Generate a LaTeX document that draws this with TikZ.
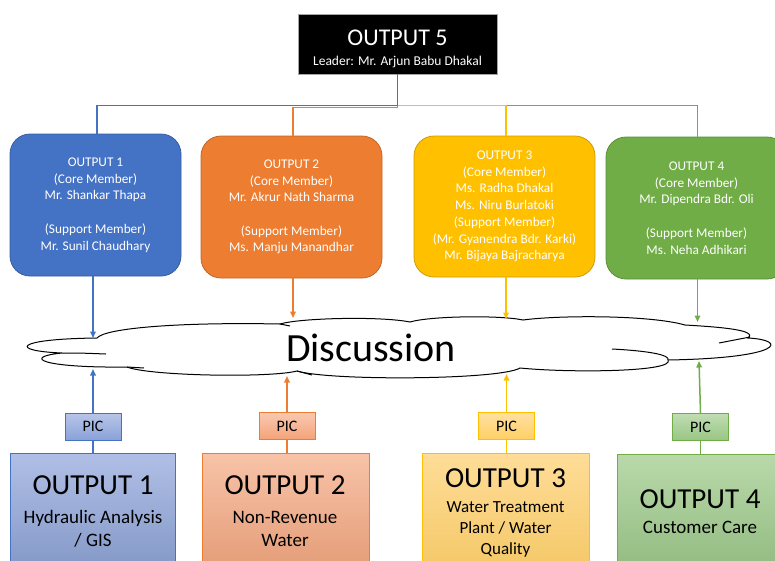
\documentclass[tikz,border=0pt]{standalone}
\usepackage{fontspec}
\setmainfont{Carlito}
\usetikzlibrary{arrows.meta}

\definecolor{cBlue}{HTML}{4472C4}
\definecolor{cOrange}{HTML}{ED7D31}
\definecolor{cYellow}{HTML}{FFC000}
\definecolor{cGreen}{HTML}{70AD47}
\definecolor{lBlueT}{HTML}{B0BFE6}
\definecolor{lBlueB}{HTML}{8AA2D8}
\definecolor{lOrangeT}{HTML}{F8C3A8}
\definecolor{lOrangeB}{HTML}{F4A379}
\definecolor{lYellowT}{HTML}{FFDD98}
\definecolor{lYellowB}{HTML}{FFCF64}
\definecolor{lGreenT}{HTML}{B9D9AA}
\definecolor{lGreenB}{HTML}{98C684}

\tikzset{
  leadbox/.style={draw=gray!70, fill=black, line width=0.8pt, minimum width=199pt, minimum height=60pt, inner sep=0pt},
  leadtext/.style={text=white, anchor=base, inner sep=0pt},
  memberbox/.style={draw=#1!82!black, fill=#1, rounded corners=20pt, line width=0.8pt,
    minimum height=142pt, text=white, align=center, inner sep=0pt,
    font=\fontsize{13.3}{16.7}\selectfont},
  link/.style={draw=#1, line width=1.6pt},
  flow/.style={draw=#1, line width=1.5pt, -{Triangle[length=6.5pt,width=5.5pt]}},
  picbox/.style={draw=#1, line width=0.9pt, minimum width=56pt, minimum height=27pt,
    inner sep=0pt, font=\fontsize{16}{19}\selectfont},
  taskbox/.style={draw=#1, line width=0.9pt, minimum width=167pt, minimum height=137pt, inner sep=0pt},
  tasktitle/.style={anchor=base, inner sep=0pt, font=\fontsize{29}{34}\selectfont},
  tasksub/.style={anchor=base, inner sep=0pt, font=\fontsize{19}{23}\selectfont},
  cloudline/.style={draw=black, line width=1pt},
}

\begin{document}
\begin{tikzpicture}[x=1pt,y=-1pt]
\useasboundingbox (0,0) rectangle (775,560);

% leader
\node[leadbox] (m5) at (397.5,44) {};
\node[leadtext, font=\fontsize{24}{28}\selectfont] (m5a) at (397.5,45) {OUTPUT 5};
\node[leadtext, font=\fontsize{13.5}{16}\selectfont] (m5b) at (397.5,65) {Leader: Mr. Arjun Babu Dhakal};

% member groups
\node[memberbox=cBlue, minimum width=171pt] (m1) at (95.5,205)
  {OUTPUT 1\\(Core Member)\\Mr. Shankar Thapa\\[16.7pt](Support Member)\\Mr. Sunil Chaudhary};
\node[memberbox=cOrange, minimum width=181pt] (m2) at (291.5,207)
  {OUTPUT 2\\(Core Member)\\Mr. Akrur Nath Sharma\\[16.7pt](Support Member)\\Ms. Manju Manandhar};
\node[memberbox=cYellow, minimum width=181pt, minimum height=141pt] (m3) at (504.5,206.5)
  {OUTPUT 3\\(Core Member)\\Ms. Radha Dhakal\\Ms. Niru Burlatoki\\(Support Member)\\(Mr. Gyanendra Bdr. Karki)\\Mr. Bijaya Bajracharya};
\node[memberbox=cGreen, minimum width=181pt] (m4) at (696.5,208)
  {OUTPUT 4\\(Core Member)\\Mr. Dipendra Bdr. Oli\\[16.7pt](Support Member)\\Ms. Neha Adhikari};

% tree connectors
\draw[link=cGreen] (m5.south) -- ++(0,31) -| ([xshift=1pt]m4.north);
\draw[link=cYellow] (m5.south) -- ++(0,31) -| ([xshift=1.5pt]m3.north);
\draw[link=cOrange] (m5.south) -- ++(0,33) -| ([xshift=1.5pt]m2.north);
\draw[link=cBlue] (m5.south) -- ++(0,31) -| ([xshift=1.5pt]m1.north);

% discussion cloud
\draw[cloudline, fill=white]
  (62,353) .. controls (10,351) and (12,339) .. (97,338)
  .. controls (105,328) and (180,322) .. (280,324)
  .. controls (300,318) and (380,316) .. (410,322)
  .. controls (430,316) and (500,315) .. (523,320)
  .. controls (560,315) and (650,315) .. (685,325)
  .. controls (720,327) and (758,330) .. (748,338)
  .. controls (788,340) and (784,358) .. (668,360)
  .. controls (675,372) and (570,373) .. (520,368)
  .. controls (500,380) and (330,381) .. (297,371)
  .. controls (270,378) and (150,376) .. (127,367)
  .. controls (40,368) and (22,357) .. (62,353) -- cycle;
\draw[cloudline] (62,353) .. controls (80,353) .. (106,354);
\draw[cloudline] (127,367) -- (144,368);
\draw[cloudline] (280,324) -- (290,326);
\draw[cloudline] (297,371) -- (312,375);
\draw[cloudline] (719,343) .. controls (735,340) .. (750,337);
\draw[cloudline] (612,349) .. controls (650,351) and (670,355) .. (668,360);
\node[anchor=base, inner sep=0pt, font=\fontsize{40}{46}\selectfont] (disc) at (371,361) {Discussion};

% cloud contact points
\coordinate (k1a) at (93,338);
\coordinate (k2a) at (293,318);
\coordinate (k3a) at (506,319);
\coordinate (k4a) at (697.5,322);
\coordinate (k1b) at (93,369);
\coordinate (k2b) at (287,376);
\coordinate (k3b) at (506.5,374);
\coordinate (k4b) at (699,361);

% persons in charge
\node[picbox=cBlue, top color=lBlueT!90!white, bottom color=lBlueB] (p1) at (93,426.5) {PIC};
\node[picbox=cOrange, top color=lOrangeT!90!white, bottom color=lOrangeB] (p2) at (287,426) {PIC};
\node[picbox=cYellow, top color=lYellowT!90!white, bottom color=lYellowB] (p3) at (506.5,426) {PIC};
\node[picbox=cGreen, top color=lGreenT!90!white, bottom color=lGreenB] (p4) at (700.5,427) {PIC};

% arrows into the discussion
\draw[flow=cBlue] ([xshift=-2.5pt]m1.south) -- (k1a);
\draw[flow=cOrange] ([xshift=1.5pt]m2.south) -- (k2a);
\draw[flow=cYellow] ([xshift=1.5pt]m3.south) -- (k3a);
\draw[flow=cGreen] ([xshift=1pt]m4.south) -- (k4a);
\draw[flow=cBlue] (p1.north) -- (k1b);
\draw[flow=cOrange] (p2.north) -- (k2b);
\draw[flow=cYellow] (p3.north) -- (k3b);
\draw[flow=cGreen] (p4.north) -- (k4b);

% task boxes
\node[taskbox=cBlue, minimum width=165pt, top color=lBlueT, bottom color=lBlueB!90!black] (b1) at (92.5,521.5) {};
\node[taskbox=cOrange, top color=lOrangeT, bottom color=lOrangeB!92!black] (b2) at (285.5,521.5) {};
\node[taskbox=cYellow, top color=lYellowT, bottom color=lYellowB!95!black] (b3) at (505.5,521.5) {};
\node[taskbox=cGreen, top color=lGreenT, bottom color=lGreenB!92!black] (b4) at (700.5,522.5) {};

\draw[link=cBlue] (p1.south) -- (p1.south |- b1.north);
\draw[link=cOrange] (p2.south) -- (p2.south |- b2.north);
\draw[link=cYellow] (p3.south) -- (p3.south |- b3.north);
\draw[link=cGreen] (p4.south) -- (p4.south |- b4.north);

\node[tasktitle] (b1t) at (93,494) {OUTPUT 1};
\node[tasksub] (b1s) at (93,523) {Hydraulic Analysis};
\node[tasksub] (b1u) at (93,546) {/ GIS};

\node[tasktitle] (b2t) at (285,494) {OUTPUT 2};
\node[tasksub] (b2s) at (285,523) {Non-Revenue};
\node[tasksub] (b2u) at (285,546) {Water};

\node[tasktitle] (b3t) at (505.5,487) {OUTPUT 3};
\node[tasksub, font=\fontsize{17}{21}\selectfont] (b3s) at (505.5,512) {Water Treatment};
\node[tasksub, font=\fontsize{17}{21}\selectfont] (b3u) at (505.5,533) {Plant / Water};
\node[tasksub, font=\fontsize{17}{21}\selectfont] (b3v) at (505.5,554) {Quality};

\node[tasktitle] (b4t) at (700,508) {OUTPUT 4};
\node[tasksub] (b4s) at (700,533) {Customer Care};
\end{tikzpicture}
\end{document}
